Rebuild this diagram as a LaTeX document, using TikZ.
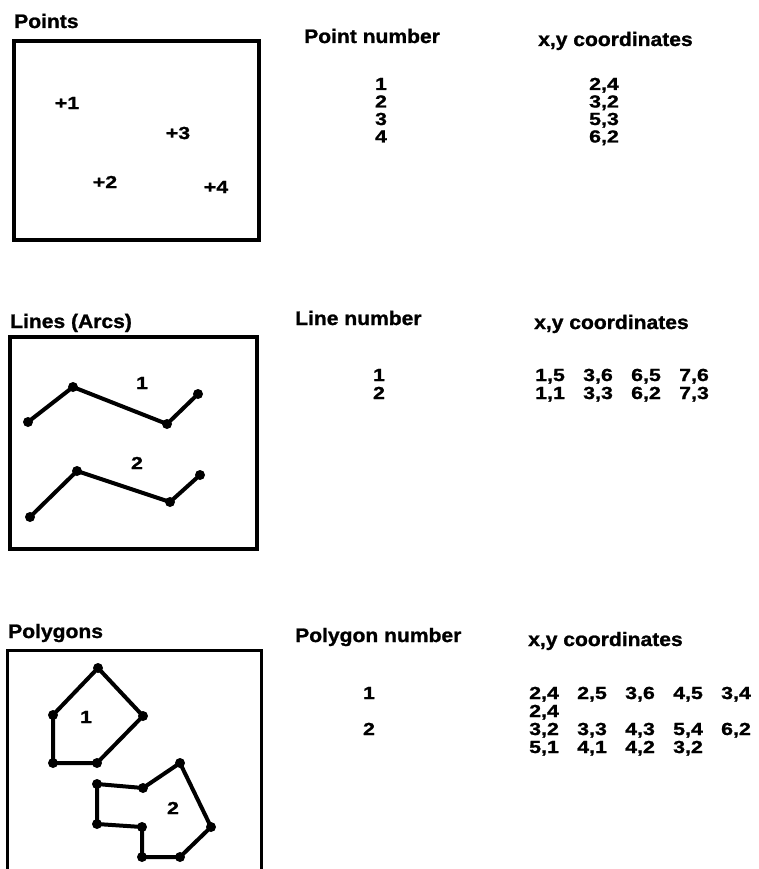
\documentclass[tikz,border=0pt]{standalone}
\usepackage{fontspec}
\setmainfont{Liberation Sans}
\newfontfamily\figfont[FakeStretch=1.08,FakeBold=1.2]{Liberation Sans}
\newfontfamily\digfont[FakeStretch=1.22,FakeBold=1.2]{Liberation Sans}
\newcommand{\cg}[1]{\makebox[48pt][l]{#1}}
\begin{document}
\begin{tikzpicture}[x=1pt,y=-1pt,
  txt/.style={font=\figfont\bfseries\fontsize{19.5}{22}\selectfont, inner sep=0pt},
  dig/.style={font=\digfont\bfseries\fontsize{17.5}{20}\selectfont, inner sep=0pt},
  title/.style={txt, anchor=base west},
  head/.style={txt, anchor=base west},
  num/.style={dig, anchor=base},
  coords/.style={dig, anchor=base west},
  lbl/.style={dig},
  frame/.style={line width=4pt},
  seg/.style={line width=4pt, line join=round, line cap=round},
  dot/.style={fill=black}
]
\useasboundingbox (0,0) rectangle (758,869);

% ---------------- Points ----------------
\node[title] (tpoints) at (14,28) {Points};
\draw[frame] (14,41) rectangle (259,240);
\node[lbl] (p1) at (67,103) {+1};
\node[lbl] (p3) at (178,133) {+3};
\node[lbl] (p2) at (105,182) {+2};
\node[lbl] (p4) at (216,187) {+4};

\node[head] (hpn) at (304,43) {Point number};
\node[head] (hpc) at (538,46) {x,y coordinates};
\node[num] (pn1) at (381,90) {1};
\node[num] (pn2) at (381,107.5) {2};
\node[num] (pn3) at (381,125) {3};
\node[num] (pn4) at (381,142.5) {4};
\node[num] (pc1) at (604,90) {2,4};
\node[num] (pc2) at (604,107.5) {3,2};
\node[num] (pc3) at (604,125) {5,3};
\node[num] (pc4) at (604,142.5) {6,2};

% ---------------- Lines ----------------
\node[title] (tlines) at (10,328) {Lines (Arcs)};
\draw[frame, line width=3.6pt] (10,337) rectangle (257,549);
\coordinate (a1) at (28,422);
\coordinate (a2) at (73,387);
\coordinate (a3) at (167,424);
\coordinate (a4) at (198,394);
\coordinate (b1) at (30,517);
\coordinate (b2) at (77,471);
\coordinate (b3) at (170,502);
\coordinate (b4) at (200,475);
\draw[seg] (a1) -- (a2) -- (a3) -- (a4);
\draw[seg] (b1) -- (b2) -- (b3) -- (b4);
\foreach \p in {a1,a2,a3,a4,b1,b2,b3,b4} \fill[dot] (\p) circle[radius=5pt];
\node[lbl] (l1) at (142,383) {1};
\node[lbl] (l2) at (137,463) {2};

\node[head] (hln) at (295,325) {Line number};
\node[head] (hlc) at (534,329) {x,y coordinates};
\node[num] (ln1) at (379,381) {1};
\node[num] (ln2) at (379,399) {2};
\node[coords] (lc1) at (535,381) {\cg{1,5}\cg{3,6}\cg{6,5}7,6};
\node[coords] (lc2) at (535,399) {\cg{1,1}\cg{3,3}\cg{6,2}7,3};

% ---------------- Polygons ----------------
\node[title] (tpoly) at (8,638) {Polygons};
\draw[frame, line width=3pt] (7,872) -- (7,650) -- (261,650) -- (261,872);
\coordinate (q1) at (98,668);
\coordinate (q2) at (143,716);
\coordinate (q3) at (97,763);
\coordinate (q4) at (53,763);
\coordinate (q5) at (53,715);
\draw[seg] (q1) -- (q2) -- (q3) -- (q4) -- (q5) -- cycle;
\coordinate (r1) at (97,784);
\coordinate (r2) at (143,788);
\coordinate (r3) at (180,763);
\coordinate (r4) at (211,827);
\coordinate (r5) at (180,857);
\coordinate (r6) at (142,857);
\coordinate (r7) at (142,827);
\coordinate (r8) at (97,824);
\draw[seg] (r1) -- (r2) -- (r3) -- (r4) -- (r5) -- (r6) -- (r7) -- (r8) -- cycle;
\foreach \p in {q1,q2,q3,q4,q5,r1,r2,r3,r4,r5,r6,r7,r8} \fill[dot] (\p) circle[radius=5pt];
\node[lbl] (g1) at (86,717) {1};
\node[lbl] (g2) at (173,808) {2};

\node[head] (hgn) at (295,642) {Polygon number};
\node[head] (hgc) at (528,646) {x,y coordinates};
\node[num] (gn1) at (369,699) {1};
\node[num] (gn2) at (369,735) {2};
\node[coords] (gc1) at (529,699) {\cg{2,4}\cg{2,5}\cg{3,6}\cg{4,5}3,4};
\node[coords] (gc1b) at (529,717) {2,4};
\node[coords] (gc2) at (529,735) {\cg{3,2}\cg{3,3}\cg{4,3}\cg{5,4}6,2};
\node[coords] (gc2b) at (529,753) {\cg{5,1}\cg{4,1}\cg{4,2}3,2};
\end{tikzpicture}
\end{document}
